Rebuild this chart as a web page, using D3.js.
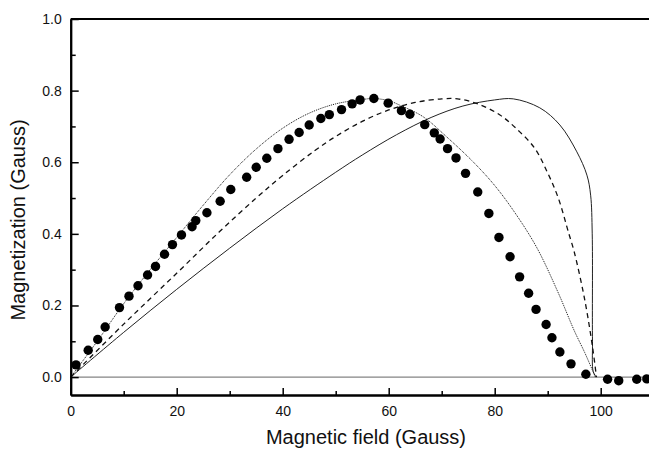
<!DOCTYPE html>
<html>
<head>
<meta charset="utf-8">
<script src="https://cdn.jsdelivr.net/npm/d3@7/dist/d3.min.js"></script>
<style>
	body { margin: 0; background: #fff; }
	svg { display: block; font-family: "Liberation Sans", Arial, sans-serif; }
</style>
</head>
<body>
<div id="chart"></div>
<script>
'use strict'
// measured points (Gauss)
var dotField = [1.0, 3.3, 5.1, 6.5, 9.2, 11.0, 12.7, 14.5, 16.0, 17.7, 19.2, 20.9, 22.9, 23.6, 25.7, 28.2,
	30.2, 33.2, 35.0, 37.0, 39.1, 41.2, 43.1, 45.0, 47.2, 48.8, 51.1, 53.1, 54.6, 57.2, 59.9, 62.4, 64.0,
	66.8, 68.6, 69.7, 71.1, 72.7, 74.5, 76.8, 78.9, 80.8, 82.9, 84.7, 86.4, 87.8, 89.7, 90.8, 92.3, 94.4,
	97.2, 101.3, 103.4, 106.8, 108.7];
var dotMag = [0.034, 0.075, 0.105, 0.14, 0.194, 0.226, 0.255, 0.285, 0.309, 0.343, 0.37, 0.397, 0.42, 0.437,
	0.459, 0.491, 0.524, 0.558, 0.586, 0.611, 0.638, 0.664, 0.683, 0.704, 0.722, 0.733, 0.747, 0.763, 0.774,
	0.778, 0.765, 0.744, 0.734, 0.705, 0.682, 0.665, 0.638, 0.612, 0.569, 0.517, 0.457, 0.39, 0.336, 0.28,
	0.234, 0.189, 0.147, 0.11, 0.07, 0.037, 0.008, -0.006, -0.01, -0.006, -0.005];

// dotted curve
var dottedField = [0, 5, 10, 15, 20, 25, 30, 35, 40, 45, 50, 55, 57, 60, 62, 66.5, 71, 76, 80, 84, 88, 92, 95, 97, 99];
var dottedMag = [0, 0.10, 0.205, 0.30, 0.39, 0.48, 0.565, 0.637, 0.695, 0.737, 0.763, 0.775, 0.778, 0.772, 0.76,
	0.727, 0.67, 0.60, 0.535, 0.455, 0.36, 0.235, 0.13, 0.068, 0];

// dashed curve
var dashedField = [0, 10, 20, 28, 35, 40, 46, 50, 55, 60, 65, 70, 73, 77, 81, 84, 87.5, 90, 92, 94, 95, 97, 98.5, 99.2];
var dashedMag = [0, 0.148, 0.29, 0.405, 0.50, 0.563, 0.632, 0.672, 0.714, 0.746, 0.767, 0.777, 0.777, 0.762,
	0.732, 0.695, 0.64, 0.57, 0.50, 0.40, 0.35, 0.215, 0.08, 0];

// solid curve
var solidField = [0, 10, 20, 30, 40, 50, 55, 61.5, 68, 74, 80, 83.5, 88.5, 92.3, 95.5, 97.4, 98.1, 98.4, 98.45, 98.6, 99.2];
var solidMag = [0, 0.125, 0.245, 0.36, 0.47, 0.572, 0.62, 0.677, 0.725, 0.757, 0.774, 0.777, 0.752,
	0.704, 0.629, 0.564, 0.508, 0.40, 0.10, 0.015, 0];

var xMajor = [0, 20, 40, 60, 80, 100];
var xMinor = [10, 30, 50, 70, 90, 110];
var yMajor = [0.0, 0.2, 0.4, 0.6, 0.8, 1.0];
var yMinor = [0.1, 0.3, 0.5, 0.7, 0.9];

var w = 649, h = 450;
var svg = d3.select("#chart").append("svg").attr("width", w).attr("height", h);

var x = d3.scaleLinear().domain([0, 110]).range([70.7, 653.7]);
var y = d3.scaleLinear().domain([-0.05, 1.0]).range([395, 19]);

function pairs(xs, ys) {
	return xs.map(function(v, i) { return [v, ys[i]]; });
}

// zero line
svg.append("line")
	.attr("x1", x(0)).attr("x2", x(110))
	.attr("y1", y(0)).attr("y2", y(0))
	.style("stroke", "#666").style("stroke-width", 1);

var line = d3.line()
	.x(function(d) { return x(d[0]); })
	.y(function(d) { return y(d[1]); })
	.curve(d3.curveCatmullRom.alpha(0.5));

svg.append("path").datum(pairs(solidField, solidMag))
	.attr("d", line).style("fill", "none").style("stroke", "#222").style("stroke-width", 1);
svg.append("path").datum(pairs(dashedField, dashedMag))
	.attr("d", line).style("fill", "none").style("stroke", "#111").style("stroke-width", 1.3)
	.style("stroke-dasharray", "5,4");
svg.append("path").datum(pairs(dottedField, dottedMag))
	.attr("d", line).style("fill", "none").style("stroke", "#111").style("stroke-width", 1)
	.style("stroke-dasharray", "1,1");

svg.append("g").selectAll("circle")
	.data(pairs(dotField, dotMag))
	.enter().append("circle")
	.attr("cx", function(d) { return x(d[0]); })
	.attr("cy", function(d) { return y(d[1]); })
	.attr("r", 4.7)
	.style("fill", "#000");

// axes, ticks pointing inwards
var bottom = svg.append("g").attr("transform", "translate(0," + y(-0.05) + ")");
bottom.call(d3.axisBottom(x).tickValues(xMajor).tickSizeInner(-7).tickSizeOuter(0).tickPadding(11));
bottom.append("g").call(d3.axisBottom(x).tickValues(xMinor).tickSizeInner(-4).tickSizeOuter(0).tickFormat(""));

var left = svg.append("g").attr("transform", "translate(" + x(0) + ",0)");
left.call(d3.axisLeft(y).tickValues(yMajor).tickSizeInner(-8).tickSizeOuter(0).tickPadding(9)
	.tickFormat(d3.format(".1f")));
left.append("g").call(d3.axisLeft(y).tickValues(yMinor).tickSizeInner(-5).tickSizeOuter(0).tickFormat(""));

svg.selectAll(".domain").style("stroke", "#000").style("stroke-width", 2);
svg.selectAll(".tick line").style("stroke", "#000").style("stroke-width", 1.5);
svg.selectAll(".tick text").style("font-size", "14px").style("fill", "#111")
	.style("font-family", "'Liberation Sans', Arial, sans-serif");

// top frame line
svg.append("line")
	.attr("x1", x(0)).attr("x2", x(110))
	.attr("y1", y(1.0)).attr("y2", y(1.0))
	.style("stroke", "#000").style("stroke-width", 2);

svg.append("text")
	.attr("x", 366).attr("y", 444)
	.attr("text-anchor", "middle")
	.style("font-size", "20px").style("fill", "#111")
	.text("Magnetic field (Gauss)");

svg.append("text")
	.attr("transform", "translate(25,220) rotate(-90)")
	.attr("text-anchor", "middle")
	.style("font-size", "20px").style("fill", "#111")
	.text("Magnetization (Gauss)");
</script>
</body>
</html>
